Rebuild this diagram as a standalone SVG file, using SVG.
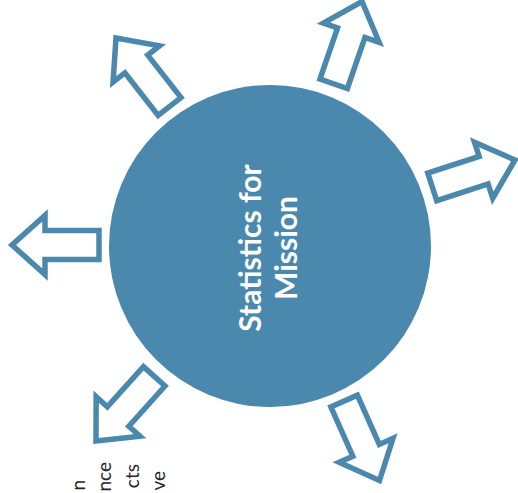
<svg xmlns="http://www.w3.org/2000/svg" xmlns:xlink="http://www.w3.org/1999/xlink" width="518" height="493" viewBox="0 0 518 493">
<style>
.arrow{fill:#ffffff;stroke:#4A89AD;stroke-width:5.5;stroke-linejoin:miter;stroke-miterlimit:10}
.hub{fill:#4A89AD}
.title{font-family:Lato,"Liberation Sans",sans-serif;font-weight:bold;font-size:30px;fill:#ffffff;text-anchor:middle}
.side{font-family:Lato,"Liberation Sans",sans-serif;font-size:19px;fill:#262626;text-anchor:end}
</style>
<defs>
<path id="arr" d="M0,0 L-33,-29.5 L-33,-14.5 L-87,-14.5 L-87,14.5 L-33,14.5 L-33,29.5 Z"/>
</defs>
<rect width="518" height="493" fill="#ffffff"/>
<g id="hub">
<circle class="hub" cx="270" cy="246" r="161"/>
<text class="title" transform="translate(261,248) rotate(-90)">Statistics for</text>
<text class="title" transform="translate(297,248) rotate(-90)">Mission</text>
</g>
<g id="connectors">
<use xlink:href="#arr" class="arrow" transform="translate(12,245) rotate(180)"/>
<use xlink:href="#arr" class="arrow" transform="translate(116,38) rotate(-128)"/>
<use xlink:href="#arr" class="arrow" transform="translate(362,1.5) rotate(-71)"/>
<use xlink:href="#arr" class="arrow" transform="translate(515,160) rotate(-18)"/>
<use xlink:href="#arr" class="arrow" transform="translate(379.5,480.5) rotate(66)"/>
<use xlink:href="#arr" class="arrow" transform="translate(96,441) rotate(132)"/>
</g>
<g id="side-text">
<text class="side" transform="translate(85,480) rotate(-90)">n</text>
<text class="side" transform="translate(111,462) rotate(-90)">nce</text>
<text class="side" transform="translate(139,464) rotate(-90)">cts</text>
<text class="side" transform="translate(165,471) rotate(-90)">ve</text>
</g>
</svg>
